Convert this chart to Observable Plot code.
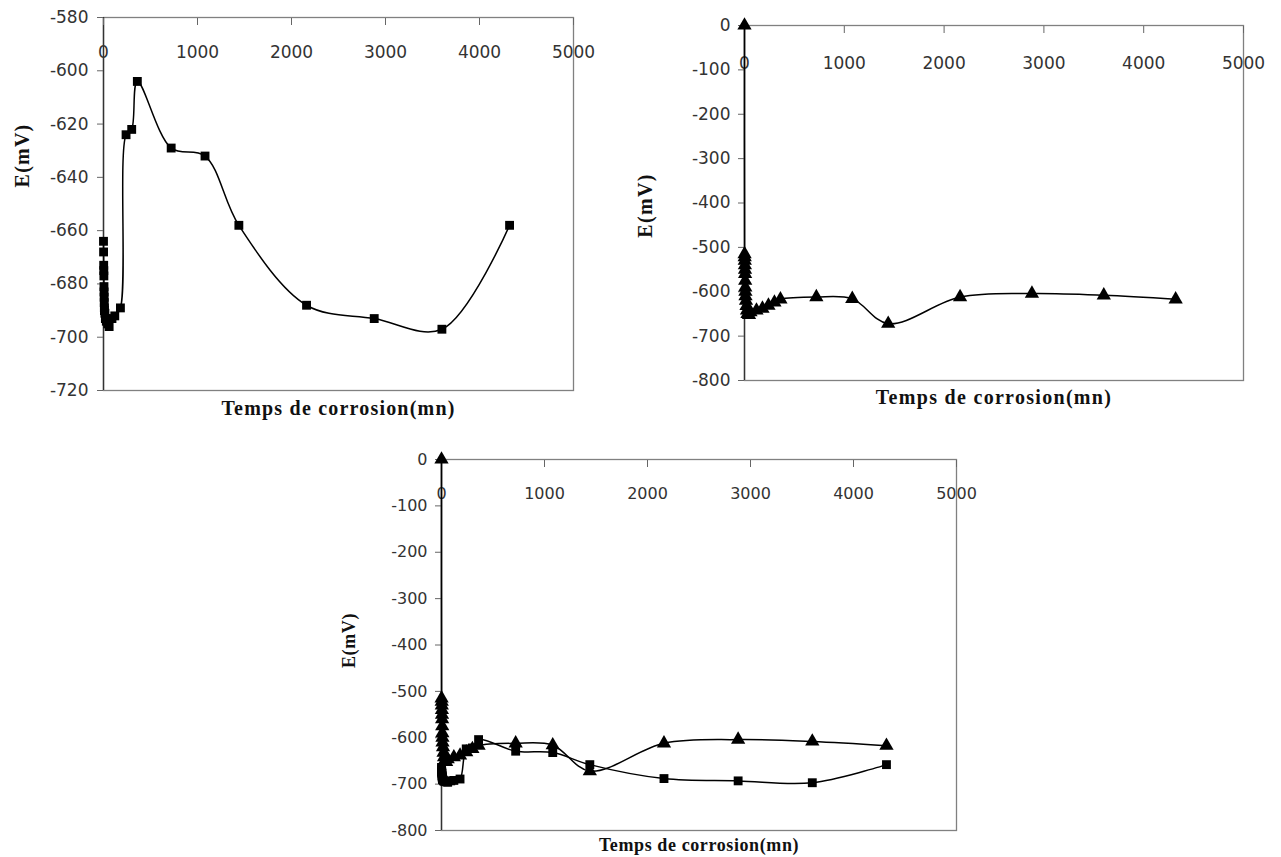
<!DOCTYPE html>
<html>
<head>
<meta charset="utf-8">
<script src="https://cdn.jsdelivr.net/npm/d3@7"></script>
<script src="https://cdn.jsdelivr.net/npm/@observablehq/plot@0.6"></script>
<style>
  html, body { margin: 0; padding: 0; background: #fff; }
  #root { position: relative; width: 1281px; height: 857px; overflow: hidden; background: #fff; }
  .panel { position: absolute; }
  .panel svg { overflow: visible; }
</style>
</head>
<body>
<div id="root"></div>
<script>
// ---- data ----
const timeSquares = [0, 1, 2, 3, 4, 5, 6, 7, 8, 9, 10, 15, 20, 30, 45, 60, 90, 120, 180, 240, 300, 360, 720, 1080, 1440, 2160, 2880, 3600, 4320];
const eSquares    = [-664, -668, -673, -675, -677, -681, -683, -685, -687, -689, -690, -691, -693, -694, -695, -696, -693, -692, -689, -624, -622, -604, -629, -632, -658, -688, -693, -697, -658];

const timeTriangles = [0, 1, 2, 3, 4, 5, 6, 7, 8, 9, 10, 15, 20, 25, 30, 45, 60, 120, 180, 240, 300, 360, 720, 1080, 1440, 2160, 2880, 3600, 4320];
const eTriangles    = [0, -515, -522, -530, -540, -550, -560, -575, -590, -600, -610, -620, -632, -642, -650, -652, -646, -642, -638, -631, -624, -617, -612, -616, -672, -612, -604, -608, -617];

const xTicks = [0, 1000, 2000, 3000, 4000, 5000];
const yTicksPanel1 = [-580, -600, -620, -640, -660, -680, -700, -720];
const yTicksPanel23 = [0, -100, -200, -300, -400, -500, -600, -700, -800];

const xTitle = "Temps de corrosion(mn)";
const yTitle = "E(mV)";

// ---- tables ----
const squares = timeSquares.map((t, i) => ({t, e: eSquares[i]}));
const triangles = timeTriangles.map((t, i) => ({t, e: eTriangles[i]}));

// ---- layout ----
const panels = [
  {left: 0, top: 0, width: 640, height: 430, mL: 103, mT: 17, mR: 67, mB: 40,
   yDomain: [-720, -580], yTicks: yTicksPanel1, series: ["sq"],
   labelDy: 35, tickPad: 9, titleDy: 18, yTitleDx: -81, yTitleDy: 138, tickFont: 17, titleFont: 20, ls: 1.2},
  {left: 620, top: 0, width: 661, height: 420, mL: 124, mT: 25, mR: 38, mB: 40,
   yDomain: [-800, 0], yTicks: yTicksPanel23, series: ["tri"],
   labelDy: 38, tickPad: 8, titleDy: 17, yTitleDx: -99, yTitleDy: 180, tickFont: 17, titleFont: 20, ls: 1.3},
  {left: 320, top: 440, width: 660, height: 417, mL: 121, mT: 19, mR: 24, mB: 27,
   yDomain: [-800, 0], yTicks: yTicksPanel23, series: ["sq", "tri"],
   labelDy: 34, tickPad: 8, titleDy: 15, yTitleDx: -92, yTitleDy: 181, tickFont: 16, titleFont: 18, ls: 0.6}
];

const root = document.getElementById("root");

for (const p of panels) {
  const marks = [
    Plot.frame({stroke: "#808080", strokeWidth: 1.3}),
    Plot.ruleX([0], {stroke: "#333", strokeWidth: 1.4}),
    Plot.axisY({ticks: p.yTicks, tickFormat: d => String(d), tickSize: 6, tickPadding: p.tickPad, label: null, stroke: "#666"}),
    Plot.axisX({anchor: "top", ticks: xTicks, tickSize: -7, fill: "none", label: null, stroke: "#666"}),
    Plot.text(xTicks, {x: d => d, text: d => String(d), frameAnchor: "top", lineAnchor: "middle", dy: p.labelDy, fill: "#333", fontSize: p.tickFont}),
    Plot.text([xTitle], {frameAnchor: "bottom", lineAnchor: "middle", dy: p.titleDy, fontFamily: "Liberation Serif", fontWeight: "bold", fontSize: p.titleFont, fill: "#111"}),
    Plot.text([yTitle], {frameAnchor: "top-left", textAnchor: "middle", lineAnchor: "middle", dx: p.yTitleDx, dy: p.yTitleDy, rotate: -90, fontFamily: "Liberation Serif", fontWeight: "bold", fontSize: p.titleFont, fill: "#111"})
  ];
  if (p.series.includes("sq")) {
    marks.push(Plot.line(squares, {x: "t", y: "e", curve: "catmull-rom", stroke: "black", strokeWidth: 1.5}));
    marks.push(Plot.dot(squares, {x: "t", y: "e", symbol: "square", r: 5, fill: "black", stroke: "none"}));
  }
  if (p.series.includes("tri")) {
    marks.push(Plot.line(triangles, {x: "t", y: "e", curve: "catmull-rom", stroke: "black", strokeWidth: 1.5}));
    marks.push(Plot.dot(triangles, {x: "t", y: "e", symbol: "triangle", r: 5.3, fill: "black", stroke: "none"}));
  }
  const chart = Plot.plot({
    width: p.width,
    height: p.height,
    marginLeft: p.mL, marginTop: p.mT, marginRight: p.mR, marginBottom: p.mB,
    x: {domain: [0, 5000], axis: null},
    y: {domain: p.yDomain, axis: null},
    style: {fontFamily: "DejaVu Sans", fontSize: p.tickFont + "px", color: "#333", background: "white"},
    marks
  });
  d3.select(chart).selectAll("text").filter(function() { return this.textContent === xTitle || this.textContent === yTitle; })
    .style("letter-spacing", p.ls + "px");
  const div = document.createElement("div");
  div.className = "panel";
  div.style.left = p.left + "px";
  div.style.top = p.top + "px";
  div.appendChild(chart);
  root.appendChild(div);
}
</script>
</body>
</html>
